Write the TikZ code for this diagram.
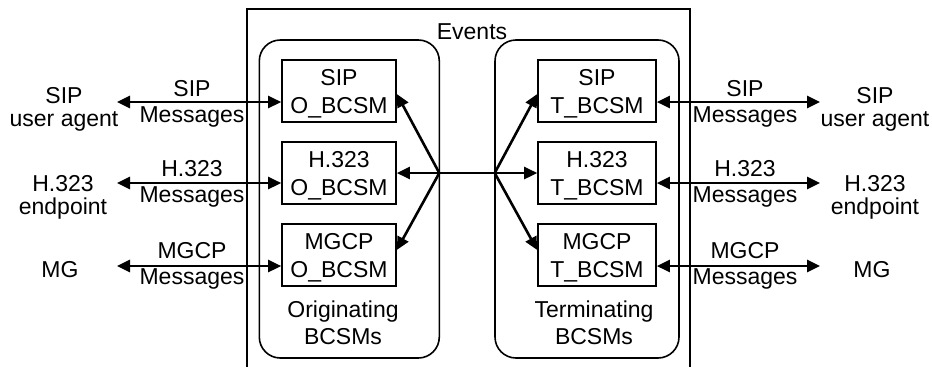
\documentclass[tikz,border=0pt]{standalone}
\usepackage{fontspec}
\setmainfont{Liberation Sans}
\usetikzlibrary{arrows.meta}
\begin{document}
\begin{tikzpicture}[x=1pt,y=-1pt,
  every node/.style={align=center, inner sep=0pt, font=\fontsize{23}{27}\selectfont},
  endpt/.style={font=\fontsize{23}{23}\selectfont},
  msglabel/.style={font=\fontsize{23}{26}\selectfont},
  boxtext/.style={font=\fontsize{23}{28}\selectfont, yshift=-3.2pt},
  bcsm/.style={draw, line width=1.6pt, minimum height=62pt},
  grp/.style={draw, line width=1.6pt, rounded corners=21pt, minimum height=318pt},
  tip/.tip={Triangle[length=13pt,width=12pt]},
  msg/.style={line width=2.6pt, tip-tip},
  evt/.style={line width=2.6pt, tip-tip, line join=miter},
]
\useasboundingbox (0,0) rectangle (932,367);

% outer event area (open at the bottom)
\draw[line width=1.3pt] (247,367) -- (247,9) -- (690,9) -- (690,367);
\node[anchor=base] (events) at (472,39) {Events};

% groups
\node[grp, minimum width=180pt] (og) at (349.3,199) {};
\node[grp, minimum width=184pt] (tg) at (587,199) {};
\node (ol) at (343,323) {Originating\\BCSMs};
\node (tl) at (594,323) {Terminating\\BCSMs};

% BCSM boxes
\node[bcsm, minimum width=114pt] (os) at (339,91) {};
\node[bcsm, minimum width=114pt] (oh) at (339,173) {};
\node[bcsm, minimum width=114pt] (om) at (339,255) {};
\node[bcsm, minimum width=118pt] (ts) at (597,91) {};
\node[bcsm, minimum width=118pt] (th) at (597,173) {};
\node[bcsm, minimum width=118pt] (tm) at (597,255) {};
\node[boxtext] (ost) at (os) {SIP\\O\_BCSM};
\node[boxtext] (oht) at (oh) {H.323\\O\_BCSM};
\node[boxtext] (omt) at (om) {MGCP\\O\_BCSM};
\node[boxtext] (tst) at (ts) {SIP\\T\_BCSM};
\node[boxtext] (tht) at (th) {H.323\\T\_BCSM};
\node[boxtext] (tmt) at (tm) {MGCP\\T\_BCSM};

% event distribution
\coordinate (jl) at (439.3,173);
\coordinate (jr) at (494.7,173);
\draw[evt] ([yshift=-3pt]os.east) -- (jl) -- ([yshift=5pt]om.east);
\draw[evt] (oh.east) -- (th.west);
\draw[evt] ([yshift=-3pt]ts.west) -- (jr) -- ([yshift=5pt]tm.west);

% left endpoints
\node[endpt] (lsip) at (64,109.6) {SIP\\user agent};
\node[endpt] (lh) at (63,197.8) {H.323\\endpoint};
\node[endpt] (lmg) at (60,269.7) {MG};
\coordinate (la1) at (117,102);
\coordinate (la2) at (117,183);
\coordinate (la3) at (117,266);
\draw[msg] (la1) -- ([yshift=-11pt]os.west);
\draw[msg] (la2) -- ([yshift=-10pt]oh.west);
\draw[msg] (la3) -- ([yshift=-11pt]om.west);
\node[msglabel] (lm1) at (192,104.1) {SIP\\Messages};
\node[msglabel] (lm2) at (192,184.3) {H.323\\Messages};
\node[msglabel] (lm3) at (192,265.4) {MGCP\\Messages};

% right endpoints
\node[endpt] (rsip) at (875,109.6) {SIP\\user agent};
\node[endpt] (rh) at (875,197.8) {H.323\\endpoint};
\node[endpt] (rmg) at (872,269.7) {MG};
\coordinate (ra1) at (820,102);
\coordinate (ra2) at (820,183);
\coordinate (ra3) at (820,266);
\draw[msg] ([yshift=-11pt]ts.east) -- (ra1);
\draw[msg] ([yshift=-10pt]th.east) -- (ra2);
\draw[msg] ([yshift=-11pt]tm.east) -- (ra3);
\node[msglabel] (rm1) at (745,104.1) {SIP\\Messages};
\node[msglabel] (rm2) at (745,184.3) {H.323\\Messages};
\node[msglabel] (rm3) at (745,265.4) {MGCP\\Messages};
\end{tikzpicture}
\end{document}
